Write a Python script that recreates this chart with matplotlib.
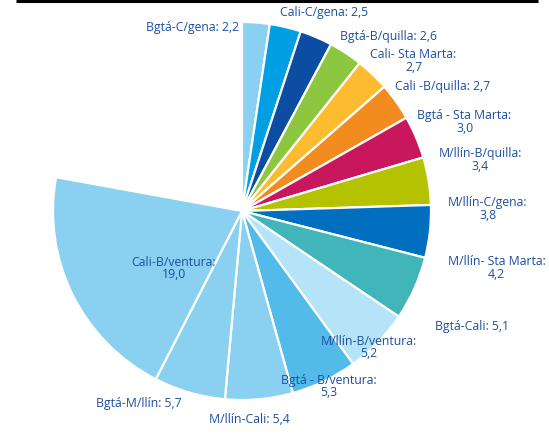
import matplotlib
matplotlib.use("Agg")
import matplotlib.pyplot as plt
import numpy as np
from matplotlib.lines import Line2D

# ---- data ----
routes = ["Bgtá-C/gena", "Cali-C/gena", "Bgtá-B/quilla", "Cali- Sta Marta",
          "Cali -B/quilla", "Bgtá - Sta Marta", "M/llín-B/quilla", "M/llín-C/gena",
          "M/llín- Sta Marta", "Bgtá-Cali", "M/llín-B/ventura", "Bgtá - B/ventura",
          "M/llín-Cali", "Bgtá-M/llín", "Cali-B/ventura"]
values = [2.2, 2.5, 2.6, 2.7, 2.7, 3.0, 3.4, 3.8, 4.2, 5.1, 5.2, 5.3, 5.4, 5.7, 19.0]
full_circle = 93.5  # value that would span the full 360 degrees

# ---- style ----
colors = ["#8ad0f0", "#009fe3", "#0b4da2", "#8dc63f", "#fdbb30", "#f28c1f",
          "#c8175d", "#b5c200", "#006fc0", "#40b5ba", "#b5e3f7", "#52bbea",
          "#8ad0f0", "#8ad0f0", "#8ad0f0"]
two_line = [False, False, False, True, False, True, True, True, True,
            False, True, True, False, False, True]
# label placement (polar: angle in degrees, radius in pie radii)
label_angle = [105.1, 67.6, 50.2, 41.4, 32.1, 22.0, 12.3, 0.7, -12.4,
               -26.5, -47.0, -63.6, -88.0, -118.4, -140.4]
label_radius = [1.01, 1.14, 1.21, 1.21, 1.25, 1.27, 1.29, 1.30, 1.38,
                1.36, 0.98, 1.03, 1.10, 1.15, 0.47]
text_color = "#1c4f9f"

W, H, DPI = 549, 439, 100
cx_px, cy_px, r_px = 242, 212, 189

fig = plt.figure(figsize=(W / DPI, H / DPI), dpi=DPI)
ax = fig.add_axes([0, 0, 1, 1])

fracs = [v / full_circle for v in values]
wedges, _ = ax.pie(fracs, colors=colors, startangle=90, counterclock=False,
                   normalize=False, radius=1.0,
                   wedgeprops=dict(edgecolor="white", linewidth=1.6))

ax.set_xlim(-cx_px / r_px, (W - cx_px) / r_px)
ax.set_ylim(-(H - cy_px) / r_px, cy_px / r_px)
ax.set_aspect("equal", adjustable="box")
ax.axis("off")

for name, v, tl, a, r in zip(routes, values, two_line, label_angle, label_radius):
    val = f"{v:.1f}".replace(".", ",")
    txt = f"{name}:\n{val}" if tl else f"{name}: {val}"
    x = r * np.cos(np.radians(a))
    y = r * np.sin(np.radians(a))
    ax.text(x, y, txt, ha="center", va="center", fontsize=8.8,
            family=["Open Sans", "DejaVu Sans"], color=text_color,
            linespacing=0.95)

fig.add_artist(Line2D([15.6 / W, 538 / W], [1 - 1.5 / H, 1 - 1.5 / H],
                      transform=fig.transFigure, color="black", linewidth=2.2,
                      solid_capstyle="butt"))

fig.savefig("out.png", dpi=DPI)
